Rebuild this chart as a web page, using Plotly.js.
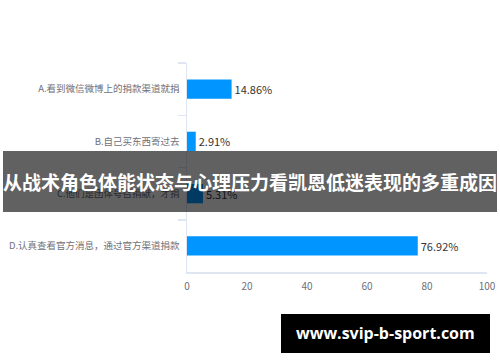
<!DOCTYPE html>
<html>
<head>
<meta charset="utf-8">
<script src="https://cdn.plot.ly/plotly-3.0.1.min.js"></script>
<style>html,body{margin:0;padding:0;background:#fff;}#chart{width:500px;height:362px;}</style>
</head>
<body>
<div id="chart"></div>
<script>
const categories = [
  "A.看到微信微博上的捐款渠道就捐",
  "B.自己买东西寄过去",
  "C.他们是团体号召捐献，才捐",
  "D.认真查看官方消息，通过官方渠道捐款"
];
const values = [14.86, 2.91, 5.31, 76.92];
const xTicks = [0, 20, 40, 60, 80, 100];
const bannerText = "从战术角色体能状态与心理压力看凯恩低迷表现的多重成因";
const watermarkText = "www.svip-b-sport.com";

const cjk = '"Noto Sans CJK SC", "Noto Sans", sans-serif';

const trace = {
  type: 'bar',
  orientation: 'h',
  y: categories,
  x: values,
  marker: {color: '#0095ff'},
  width: 0.37,
  text: values.map(v => v.toFixed(2) + '%'),
  textposition: 'outside',
  textfont: {family: cjk, size: 11, color: '#333'},
  cliponaxis: false,
  hoverinfo: 'none'
};

const layout = {
  width: 500, height: 362,
  margin: {l: 187, r: 13, t: 63, b: 90},
  paper_bgcolor: '#fff', plot_bgcolor: '#fff',
  showlegend: false,
  bargap: 0.63,
  xaxis: {
    range: [0, 100], tickvals: xTicks, ticktext: xTicks.map(String),
    showgrid: false, zeroline: false,
    showline: true, linecolor: '#e0e6f1', linewidth: 1.5,
    ticks: '', tickfont: {family: cjk, size: 10, color: '#6e7079'},
    ticklabelstandoff: 4, fixedrange: true
  },
  yaxis: {
    type: 'category', autorange: 'reversed',
    showgrid: false, zeroline: false,
    showline: true, linecolor: '#e0e6f1', linewidth: 1.5,
    ticks: 'outside', tickson: 'boundaries', ticklen: 8, tickcolor: '#e0e6f1', tickwidth: 1.5,
    tickfont: {family: cjk, size: 9.5, color: '#6e7079'},
    ticklabelstandoff: 4, fixedrange: true
  },
  shapes: [
    {type: 'rect', xref: 'paper', yref: 'paper', layer: 'above',
     x0: -184/300, x1: 310/300, y0: (272-151)/209, y1: (272-212)/209,
     fillcolor: 'rgba(0,0,0,0.62)', line: {width: 0}},
    {type: 'rect', xref: 'paper', yref: 'paper', layer: 'above',
     x0: (281-187)/300, x1: (490-187)/300, y0: (272-314)/209, y1: (272-353)/209,
     fillcolor: '#000', line: {width: 0}}
  ],
  annotations: [
    {xref: 'paper', yref: 'paper', x: (250-187)/300, y: (272-181)/209,
     text: '<b>' + bannerText + '</b>', showarrow: false,
     font: {family: cjk, size: 19, color: '#fff'}, xanchor: 'center', yanchor: 'middle'},
    {xref: 'paper', yref: 'paper', x: (385.5-187)/300, y: (272-333)/209,
     text: '<b>' + watermarkText + '</b>', showarrow: false,
     font: {family: '"Open Sans", "DejaVu Sans", sans-serif', size: 16, color: '#fff'},
     xanchor: 'center', yanchor: 'middle'}
  ]
};

Plotly.newPlot('chart', [trace], layout, {displayModeBar: false, staticPlot: true});
</script>
</body>
</html>
